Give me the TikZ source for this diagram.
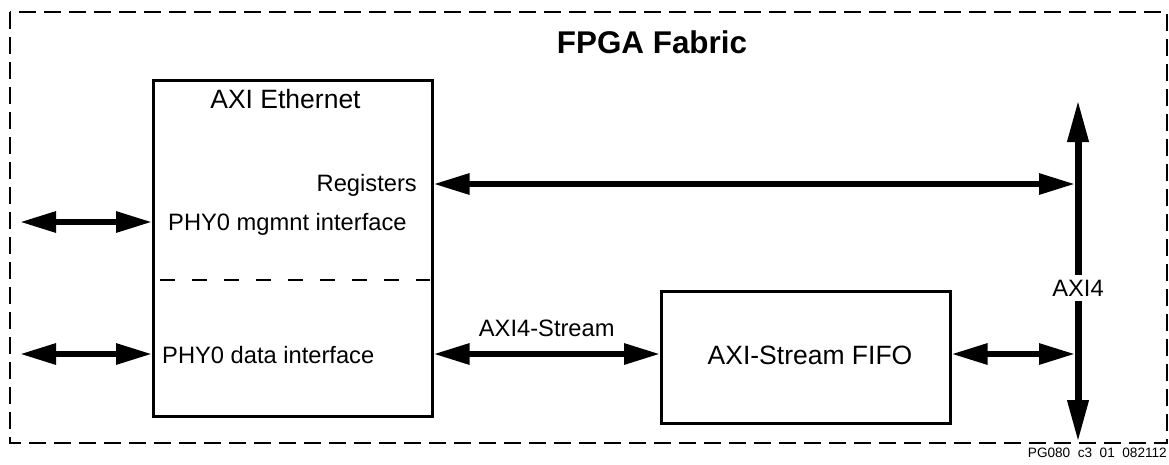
\documentclass[tikz,border=0pt]{standalone}
\usepackage{fontspec}
\setmainfont{Liberation Sans}
\usetikzlibrary{arrows.meta}
\newcommand\setfs[1]{\fontsize{#1}{#1}\selectfont}
\tikzset{
  block/.style={draw, line width=2.5pt, inner sep=0pt, anchor=north west},
  fabric/.style={draw, line width=2.5pt, dash pattern=on 17pt off 8pt},
  divider/.style={line width=2.5pt, dash pattern=on 15pt off 17pt},
  link/.style={line width=6pt,
    {Triangle[length=36pt,width=20pt]}-{Triangle[length=36pt,width=20pt]}},
  buslink/.style={line width=7pt, -{Triangle[length=42pt,width=20pt]}},
  lbl/.style={inner sep=0pt, font=\setfs{23.7}},
  biglbl/.style={inner sep=0pt, font=\setfs{26.5}},
}
\begin{document}
\begin{tikzpicture}[x=1pt,y=-1pt]
\useasboundingbox (0,0) rectangle (1169,464);

% FPGA fabric boundary
\draw[fabric] (10,12) rectangle (1167,443);
\node[inner sep=0pt, anchor=base, font=\setfs{31.4}\bfseries] (title) at (652,53) {FPGA Fabric};

% AXI Ethernet core
\node[block, minimum width=279pt, minimum height=336pt] (eth) at (152,79) {};
\node[biglbl, anchor=base] (ethname) at (285.5,108) {AXI Ethernet};
\draw[divider] (160,280) -- (430,280);
\node[lbl, anchor=base east] (regs) at (417,191) {Registers};
\node[lbl, anchor=base west] (mgmt) at (168,230) {PHY0 mgmnt interface};
\node[lbl, anchor=base west] (dataif) at (162,363) {PHY0 data interface};

% AXI-Stream FIFO
\node[block, minimum width=289pt, minimum height=132pt] (fifo) at (660,290) {};
\node[biglbl, anchor=base] (fifoname) at (810,364.5) {AXI-Stream FIFO};

% AXI4 bus
\node[lbl, inner ysep=5pt] (axi) at (1078,288) {AXI4};
\coordinate (bustop) at (1078,100);
\coordinate (busbot) at (1078,442);
\draw[buslink] (axi.north) -- (bustop);
\draw[buslink] (axi.south) -- (busbot);
\coordinate (busedge) at (1075,0);

% external PHY connections
\coordinate (mgmtext) at (20,222);
\coordinate (dataext) at (20,354);
\coordinate (reglevel) at (0,184);
\draw[link] (mgmtext) -- (mgmtext -| eth.west);
\draw[link] (dataext) -- (dataext -| eth.west);

% register access to the AXI4 bus
\draw[link] (reglevel -| eth.east) -- (reglevel -| busedge);

% streaming data path
\draw[link] (dataext -| eth.east) -- node[lbl, above=14pt] (streamlbl) {AXI4-Stream} (dataext -| fifo.west);
\draw[link] (dataext -| fifo.east) -- (dataext -| busedge);

% figure id
\node[inner sep=0pt, anchor=base east, font=\setfs{13.6}] (figid) at (1167,457) {PG080\ \ c3\ \ 01\ \ 082112};
\end{tikzpicture}
\end{document}
